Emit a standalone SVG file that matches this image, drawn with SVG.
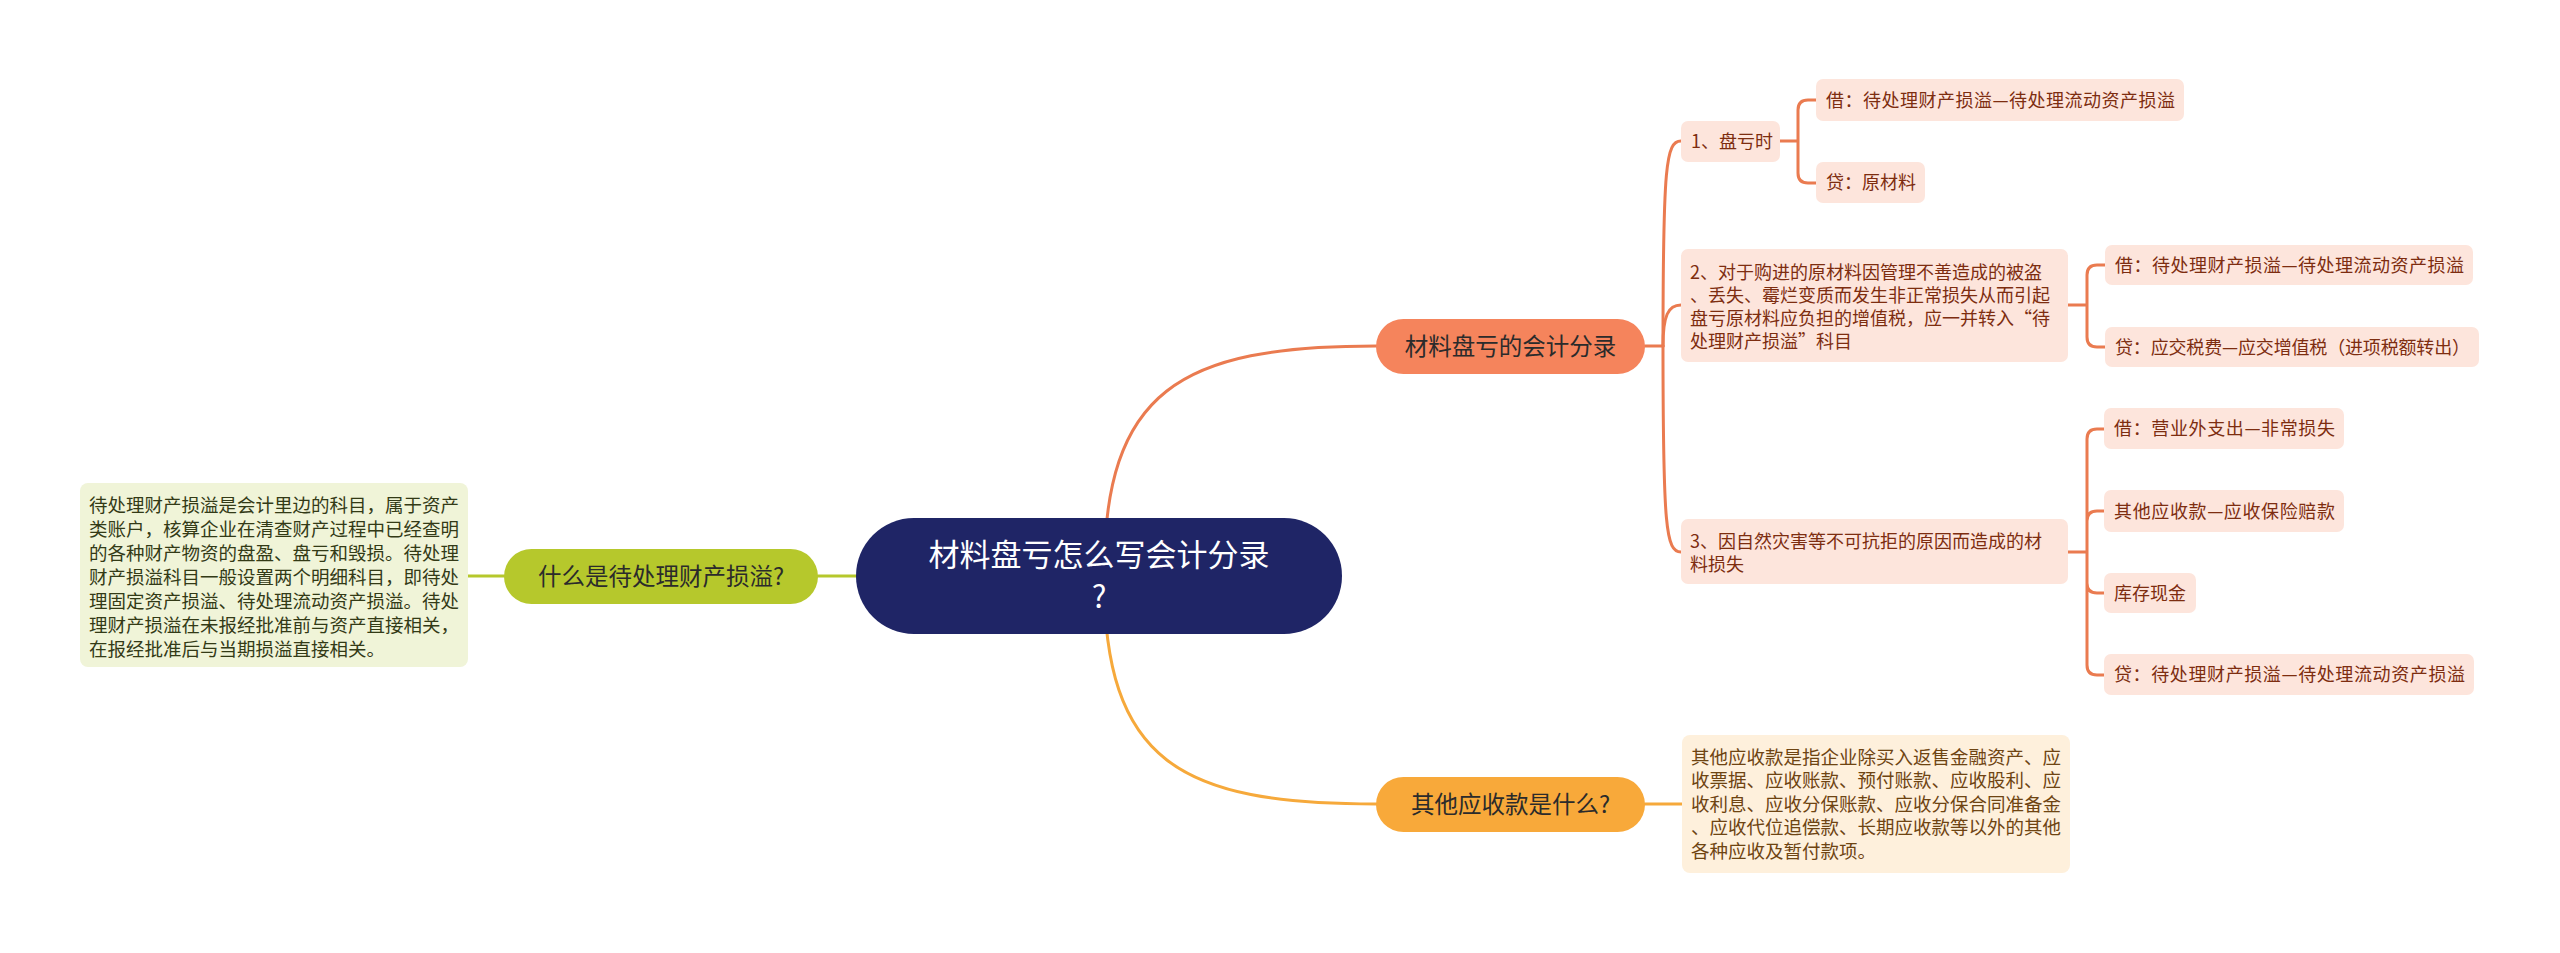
<svg xmlns="http://www.w3.org/2000/svg" width="2560" height="953" viewBox="0 0 2560 953">
<style>
text{font-family:"Noto Sans CJK SC","Noto Sans",sans-serif;}
.c{fill:none;stroke-width:3;stroke-linecap:round;}
.cr{stroke:#ea7b50;}
.co{stroke:#f6a93b;}
.cg{stroke:#b6c82c;}
.lf{fill:#fde5dc;}
.lt{font-size:18px;fill:#7d2d10;}
.pt{font-size:23.5px;fill:#2b2b2b;text-anchor:middle;}
</style>
<rect width="2560" height="953" fill="#ffffff"/>
<g id="connectors">
<path class="c cg" d="M468 576 H504 M818 576 H860"/>
<path class="c cr" d="M1104 576 C1104 390 1180 346 1376 346"/>
<path class="c co" d="M1104 576 C1104 762 1180 804 1376 804"/>
<path class="c co" d="M1645 804 H1682"/>
<path class="c cr" d="M1645 346 H1663"/>
<path class="c cr" d="M1663 346 C1663 165 1666 141 1681 141"/>
<path class="c cr" d="M1663 346 C1663 316 1668 305 1681 305"/>
<path class="c cr" d="M1663 346 C1663 528 1666 552 1681 552"/>
<path class="c cr" d="M1780 141 H1798 M1798 141 V110 Q1798 100 1808 100 H1816 M1798 141 V173 Q1798 183 1808 183 H1816"/>
<path class="c cr" d="M2068 305 H2087 M2087 305 V275 Q2087 265 2097 265 H2105 M2087 305 V337 Q2087 347 2097 347 H2105"/>
<path class="c cr" d="M2068 552 H2087 M2087 552 V439 Q2087 429 2097 429 H2104 M2087 552 V521 Q2087 511 2097 511 H2104 M2087 552 V583 Q2087 593 2097 593 H2104 M2087 552 V665 Q2087 675 2097 675 H2104"/>
</g>
<g id="root">
<rect x="856" y="518" width="486" height="116" rx="58" fill="#1f2566"/>
<text x="1099" y="566" font-size="31" fill="#ffffff" text-anchor="middle">材料盘亏怎么写会计分录</text>
<text x="1099" y="608" font-size="31" fill="#ffffff" text-anchor="middle">?</text>
</g>
<g id="n-what">
<rect x="504" y="549" width="314" height="55" rx="27.5" fill="#b6c82c"/>
<text class="pt" x="661" y="584.5">什么是待处理财产损溢?</text>
</g>
<g id="n-what-desc">
<rect x="80" y="483" width="388" height="184" rx="8" fill="#f0f4d8"/>
<text font-size="18.5" fill="#333a16">
<tspan x="89" y="511.5">待处理财产损溢是会计里边的科目，属于资产</tspan>
<tspan x="89" y="535.5">类账户，核算企业在清查财产过程中已经查明</tspan>
<tspan x="89" y="559.5">的各种财产物资的盘盈、盘亏和毁损。待处理</tspan>
<tspan x="89" y="583.5">财产损溢科目一般设置两个明细科目，即待处</tspan>
<tspan x="89" y="607.5">理固定资产损溢、待处理流动资产损溢。待处</tspan>
<tspan x="89" y="631.5">理财产损溢在未报经批准前与资产直接相关，</tspan>
<tspan x="89" y="655.5">在报经批准后与当期损溢直接相关。</tspan>
</text>
</g>
<g id="n-entry">
<rect x="1376" y="319" width="269" height="55" rx="27.5" fill="#f5845c"/>
<text class="pt" x="1510.5" y="354.5">材料盘亏的会计分录</text>
</g>
<g id="n-other">
<rect x="1376" y="777" width="269" height="55" rx="27.5" fill="#f8a93a"/>
<text class="pt" x="1510.5" y="812.5">其他应收款是什么?</text>
</g>
<g id="n-other-desc">
<rect x="1682" y="735" width="388" height="138" rx="8" fill="#fef0dc"/>
<text font-size="18.5" fill="#6e4412">
<tspan x="1691" y="763.5">其他应收款是指企业除买入返售金融资产、应</tspan>
<tspan x="1691" y="787">收票据、应收账款、预付账款、应收股利、应</tspan>
<tspan x="1691" y="810.5">收利息、应收分保账款、应收分保合同准备金</tspan>
<tspan x="1691" y="834">、应收代位追偿款、长期应收款等以外的其他</tspan>
<tspan x="1691" y="857.5">各种应收及暂付款项。</tspan>
</text>
</g>
<g id="n-1">
<rect class="lf" x="1681" y="121" width="99" height="41" rx="7"/>
<text class="lt" x="1691" y="148">1、盘亏时</text>
</g>
<g id="n-1a">
<rect class="lf" x="1816" y="79" width="368" height="42" rx="7"/>
<text class="lt" x="1826" y="106.5" textLength="349" lengthAdjust="spacing">借：待处理财产损溢—待处理流动资产损溢</text>
</g>
<g id="n-1b">
<rect class="lf" x="1816" y="162" width="109" height="41" rx="7"/>
<text class="lt" x="1826" y="189">贷：原材料</text>
</g>
<g id="n-2">
<rect class="lf" x="1681" y="249" width="387" height="113" rx="7"/>
<text class="lt">
<tspan x="1690" y="278.5">2、对于购进的原材料因管理不善造成的被盗</tspan>
<tspan x="1690" y="301.5">、丢失、霉烂变质而发生非正常损失从而引起</tspan>
<tspan x="1690" y="324.5">盘亏原材料应负担的增值税，应一并转入“待</tspan>
<tspan x="1690" y="347.5">处理财产损溢”科目</tspan>
</text>
</g>
<g id="n-2a">
<rect class="lf" x="2105" y="245" width="368" height="40" rx="7"/>
<text class="lt" x="2115" y="271.5" textLength="349" lengthAdjust="spacing">借：待处理财产损溢—待处理流动资产损溢</text>
</g>
<g id="n-2b">
<rect class="lf" x="2105" y="327" width="374" height="40" rx="7"/>
<text class="lt" x="2115" y="353.5" textLength="355" lengthAdjust="spacing">贷：应交税费—应交增值税（进项税额转出）</text>
</g>
<g id="n-3">
<rect class="lf" x="1681" y="519" width="387" height="65" rx="7"/>
<text class="lt">
<tspan x="1690" y="547.5">3、因自然灾害等不可抗拒的原因而造成的材</tspan>
<tspan x="1690" y="570.5">料损失</tspan>
</text>
</g>
<g id="n-3a">
<rect class="lf" x="2104" y="408" width="240" height="41" rx="7"/>
<text class="lt" x="2114" y="435" textLength="221" lengthAdjust="spacing">借：营业外支出—非常损失</text>
</g>
<g id="n-3b">
<rect class="lf" x="2104" y="490" width="240" height="42" rx="7"/>
<text class="lt" x="2114" y="517.5" textLength="221" lengthAdjust="spacing">其他应收款—应收保险赔款</text>
</g>
<g id="n-3c">
<rect class="lf" x="2104" y="573" width="92" height="40" rx="7"/>
<text class="lt" x="2114" y="599.5">库存现金</text>
</g>
<g id="n-3d">
<rect class="lf" x="2104" y="654" width="370" height="41" rx="7"/>
<text class="lt" x="2114" y="681" textLength="351" lengthAdjust="spacing">贷：待处理财产损溢—待处理流动资产损溢</text>
</g>
</svg>
